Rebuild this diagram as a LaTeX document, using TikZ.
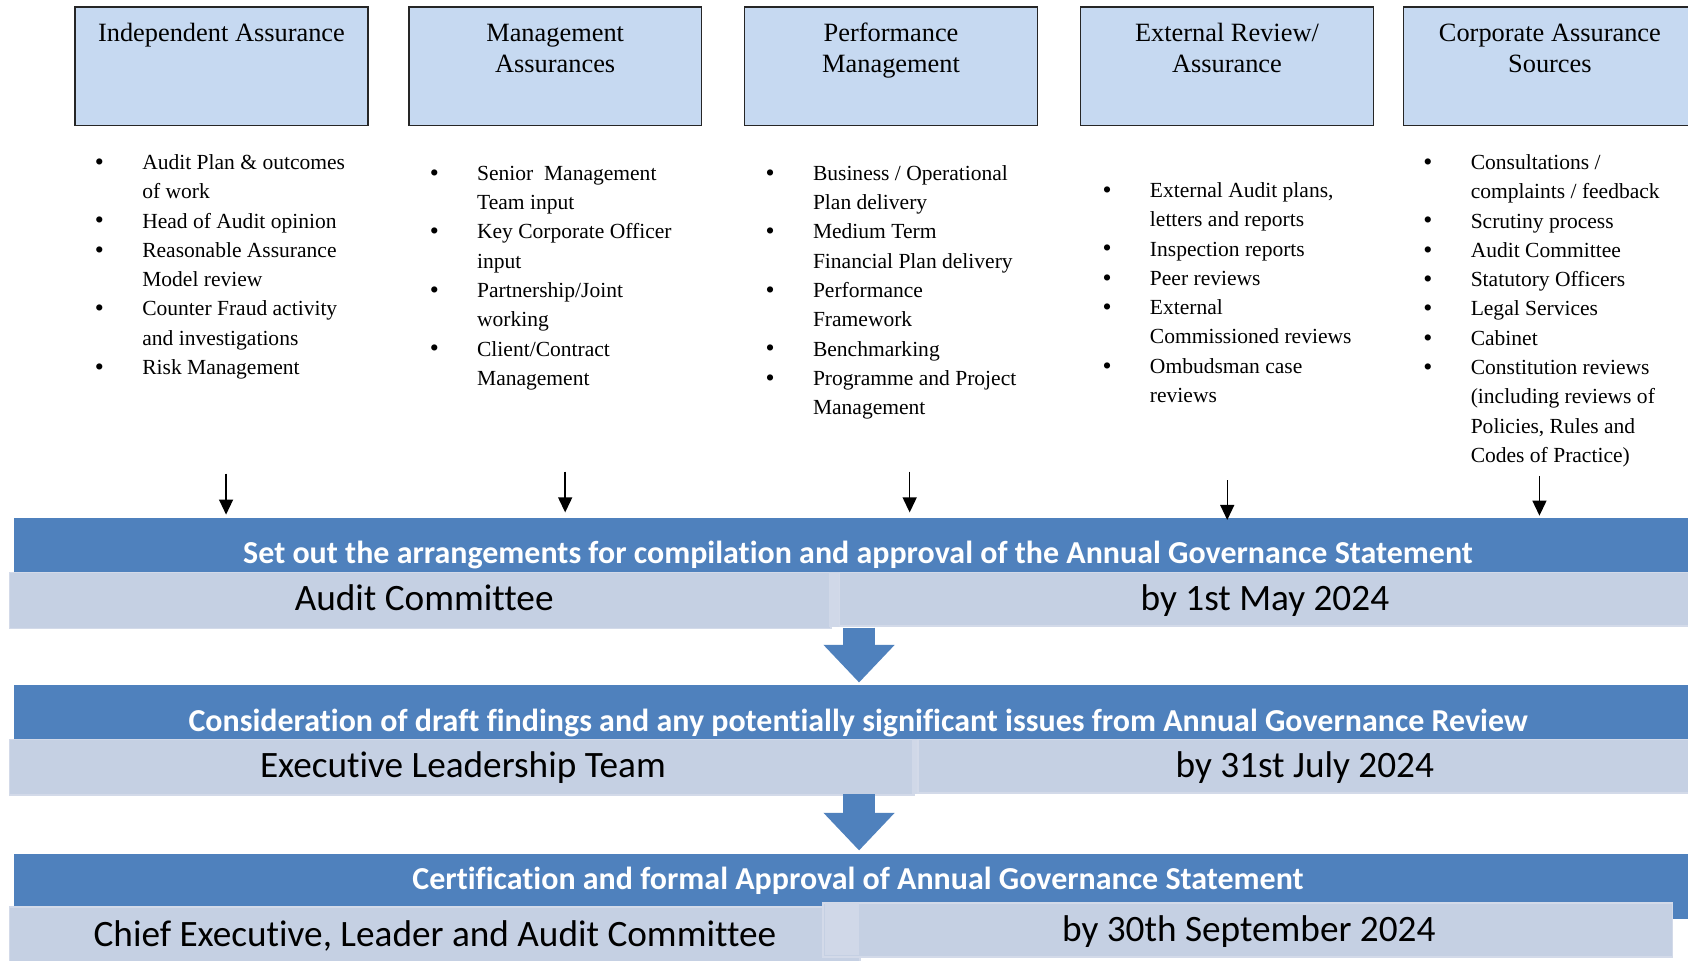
\documentclass[tikz,border=0pt]{standalone}
\usepackage{fontspec}
\setmainfont{Liberation Serif}
\newfontfamily\calfont[Ligatures=NoCommon]{Carlito}
\usetikzlibrary{arrows.meta,calc}
\definecolor{darkblue}{HTML}{4F81BD}
\definecolor{lightbarc}{HTML}{C5D0E3}
\definecolor{lightedge}{HTML}{D3DAE9}
\definecolor{stripc}{HTML}{D0D8E8}
\definecolor{boxfill}{HTML}{C6D9F1}
\newcommand{\bl}{\makebox[44pt][l]{\raisebox{-0.8pt}{\fontsize{24}{27}\selectfont\textbullet}}}
\begin{document}
\begin{tikzpicture}[x=1pt,y=-1pt,
  hdrbox/.style={draw=black!85, line width=1.4pt, fill=boxfill, inner sep=0pt, anchor=north west},
  ttl/.style={font=\fontsize{24.5}{28}\selectfont, inner sep=0pt, anchor=base},
  blist/.style={font=\fontsize{20}{27.2}\selectfont, inner sep=0pt, anchor=base west},
  darkbar/.style={fill=darkblue, draw=none, inner sep=0pt, anchor=north west},
  lightbar/.style={fill=lightbarc, draw=lightedge, line width=1.5pt, inner sep=0pt, anchor=north west},
  stripbar/.style={fill=stripc, draw=none, inner sep=0pt, anchor=north west},
  hdrtext/.style={font=\calfont\bfseries\fontsize{29.7}{33}\selectfont, text=white, inner sep=0pt, anchor=base},
  bartext/.style={font=\calfont\fontsize{34.6}{38}\selectfont, inner sep=0pt, anchor=base},
  smallarr/.style={line width=1.4pt, -{Triangle[length=14pt,width=13pt]}},
  blockarr/.style={draw=darkblue, line width=30pt, -{Triangle[length=35pt,width=64pt]}}
]
\useasboundingbox (0,0) rectangle (1568,892);
\fill[white] (0,0) rectangle (1568,892);

% header boxes
\node[hdrbox, minimum width=272pt, minimum height=110pt] (b1) at (69,6) {};
\node[hdrbox, minimum width=272pt, minimum height=110pt] (b2) at (379,6) {};
\node[hdrbox, minimum width=272pt, minimum height=110pt] (b3) at (691,6) {};
\node[hdrbox, minimum width=272pt, minimum height=110pt] (b4) at (1003,6) {};
\node[hdrbox, minimum width=272pt, minimum height=110pt] (b5) at (1303,6) {};

\node[ttl] (t1) at ($(b1.north)+(0,33)$) {Independent Assurance};
\node[ttl] (t2) at ($(b2.north)+(0,33)$) {\begin{tabular}[t]{@{}c@{}}Management\\Assurances\end{tabular}};
\node[ttl] (t3) at ($(b3.north)+(0,33)$) {\begin{tabular}[t]{@{}c@{}}Performance\\Management\end{tabular}};
\node[ttl] (t4) at ($(b4.north)+(0,33)$) {\begin{tabular}[t]{@{}c@{}}External Review/\\Assurance\end{tabular}};
\node[ttl] (t5) at ($(b5.north)+(0,33)$) {\begin{tabular}[t]{@{}c@{}}Corporate Assurance\\Sources\end{tabular}};

% bullet lists
\node[blist] (l1) at (88,157.5) {\begin{tabular}[t]{@{}l@{}l@{}}
\bl & Audit Plan \& outcomes\\
 & of work\\
\bl & Head of Audit opinion\\
\bl & Reasonable Assurance\\
 & Model review\\
\bl & Counter Fraud activity\\
 & and investigations\\
\bl & Risk Management
\end{tabular}};
\node[blist] (l2) at (399,167.5) {\begin{tabular}[t]{@{}l@{}l@{}}
\bl & Senior\ \ Management\\
 & Team input\\
\bl & Key Corporate Officer\\
 & input\\
\bl & Partnership/Joint\\
 & working\\
\bl & Client/Contract\\
 & Management
\end{tabular}};
\node[blist] (l3) at (711,167.5) {\begin{tabular}[t]{@{}l@{}l@{}}
\bl & Business / Operational\\
 & Plan delivery\\
\bl & Medium Term\\
 & Financial Plan delivery\\
\bl & Performance\\
 & Framework\\
\bl & Benchmarking\\
\bl & Programme and Project\\
 & Management
\end{tabular}};
\node[blist] (l4) at (1024,183.5) {\begin{tabular}[t]{@{}l@{}l@{}}
\bl & External Audit plans,\\
 & letters and reports\\
\bl & Inspection reports\\
\bl & Peer reviews\\
\bl & External\\
 & Commissioned reviews\\
\bl & Ombudsman case\\
 & reviews
\end{tabular}};
\node[blist] (l5) at (1322,157.5) {\begin{tabular}[t]{@{}l@{}l@{}}
\bl & Consultations /\\
 & complaints / feedback\\
\bl & Scrutiny process\\
\bl & Audit Committee\\
\bl & Statutory Officers\\
\bl & Legal Services\\
\bl & Cabinet\\
\bl & Constitution reviews\\
 & (including reviews of\\
 & Policies, Rules and\\
 & Codes of Practice)
\end{tabular}};

% stage 1
\node[darkbar, minimum width=1560pt, minimum height=60pt] (h1) at (13,481) {};
\node[lightbar, minimum width=763pt, minimum height=52pt] (a1) at (8,531) {};
\node[stripbar, minimum width=10pt, minimum height=51pt] (s1) at (770,531) {};
\node[lightbar, minimum width=792pt, minimum height=50pt] (d1) at (779,531) {};
\node[hdrtext] (ht1) at (797,523.5) {Set out the arrangements for compilation and approval of the Annual Governance Statement};
\node[bartext] (at1) at (394,567) {Audit Committee};
\node[bartext] (dt1) at (1175,567) {by 1st May 2024};

% stage 2
\node[darkbar, minimum width=1560pt, minimum height=60pt] (h2) at (13,636) {};
\node[lightbar, minimum width=840pt, minimum height=52pt] (a2) at (8,686) {};
\node[stripbar, minimum width=6pt, minimum height=51pt] (s2) at (847,686) {};
\node[lightbar, minimum width=719pt, minimum height=50pt] (d2) at (852,686) {};
\node[hdrtext] (ht2) at (797,679.5) {Consideration of draft findings and any potentially significant issues from Annual Governance Review};
\node[bartext] (at2) at (430,722) {Executive Leadership Team};
\node[bartext] (dt2) at (1212,722) {by 31st July 2024};

% stage 3
\node[darkbar, minimum width=1560pt, minimum height=60pt] (h3) at (13,793) {};
\node[lightbar, minimum width=790pt, minimum height=52pt] (a3) at (8,842) {};
\node[lightbar, minimum width=789pt, minimum height=50pt] (d3) at (764,838) {};
\node[stripbar, minimum width=32pt, minimum height=48pt] (s3) at (766,839) {};
\node[hdrtext] (ht3) at (797,826.5) {Certification and formal Approval of Annual Governance Statement};
\node[bartext] (at3) at (404,879) {Chief Executive, Leader and Audit Committee};
\node[bartext] (dt3) at (1160,875) {by 30th September 2024};

% small arrows
\coordinate (p1s) at (210,440); \coordinate (p1e) at (210,478);
\coordinate (p2s) at (525,438); \coordinate (p2e) at (525,476);
\coordinate (p3s) at (845,438); \coordinate (p3e) at (845,476);
\coordinate (p4s) at (1140,446); \coordinate (p4e) at (1140,483);
\coordinate (p5s) at (1430,442); \coordinate (p5e) at (1430,479);
\draw[smallarr] (p1s) -- (p1e);
\draw[smallarr] (p2s) -- (p2e);
\draw[smallarr] (p3s) -- (p3e);
\draw[smallarr] (p4s) -- (p4e);
\draw[smallarr] (p5s) -- (p5e);

% block arrows
\coordinate (q1s) at (798,583); \coordinate (q1e) at (798,634);
\coordinate (q2s) at (798,738); \coordinate (q2e) at (798,790);
\draw[blockarr] (q1s) -- (q1e);
\draw[blockarr] (q2s) -- (q2e);
\end{tikzpicture}
\end{document}
